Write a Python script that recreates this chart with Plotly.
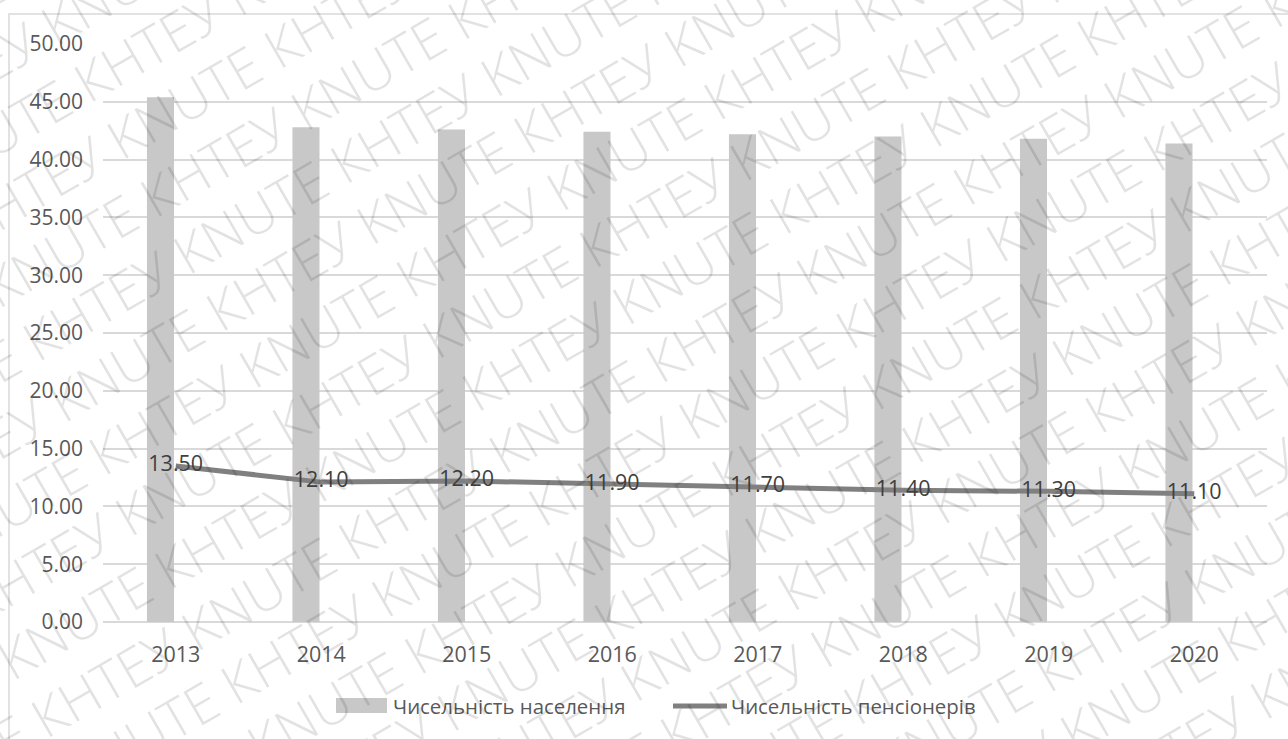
import math
import plotly.graph_objects as go

# ---- data ----
years = ["2013", "2014", "2015", "2016", "2017", "2018", "2019", "2020"]
population = [45.4, 42.8, 42.6, 42.4, 42.2, 42.0, 41.8, 41.4]
pensioners = [13.5, 12.1, 12.2, 11.9, 11.7, 11.4, 11.3, 11.1]
series_names = ["Чисельність населення", "Чисельність пенсіонерів"]
watermark_words = ["КНТЕУ", "KNUTE"]

W, H = 1288, 739
ML, MR, MT, MB = 103, 21, 44, 117
PW, PH = W - ML - MR, H - MT - MB

def px_x(p):
    return (p - ML) / PW

def px_y(p):
    return (H - MB - p) / PH

FONT = "Open Sans"
TICK_COLOR = "#595959"
BAR_COLOR = "#c8c8c8"
LINE_COLOR = "#808080"

fig = go.Figure()
fig.add_trace(go.Bar(
    x=years, y=population, name=series_names[0],
    marker=dict(color=BAR_COLOR, line=dict(width=0)),
    width=0.186, offset=-0.198, showlegend=False,
))
fig.add_trace(go.Scatter(
    x=years, y=pensioners, name=series_names[1], mode="lines+text",
    line=dict(color=LINE_COLOR, width=5, shape="linear"),
    text=[f"{v:.2f}" for v in pensioners], textposition="middle center",
    textfont=dict(family=FONT, size=21.5, color="#3f3f3f"),
    showlegend=False, cliponaxis=False,
))

shapes = []
annotations = []

# chart border
shapes.append(dict(type="rect", xref="paper", yref="paper",
                   x0=px_x(9), x1=px_x(1310), y0=px_y(14), y1=px_y(770),
                   line=dict(color="#d9d9d9", width=1.5), layer="below"))

# manual legend
shapes.append(dict(type="rect", xref="paper", yref="paper",
                   x0=px_x(336), x1=px_x(387), y0=px_y(698), y1=px_y(713),
                   fillcolor=BAR_COLOR, line=dict(width=0)))
shapes.append(dict(type="line", xref="paper", yref="paper",
                   x0=px_x(673), x1=px_x(727), y0=px_y(706), y1=px_y(706),
                   line=dict(color=LINE_COLOR, width=5)))
for name, xs in zip(series_names, [391, 729]):
    annotations.append(dict(text=name, xref="paper", yref="paper",
                            x=px_x(xs), y=px_y(706), xanchor="left", yanchor="middle",
                            showarrow=False,
                            font=dict(family=FONT, size=20.4, color=TICK_COLOR)))

# watermark
ang = math.radians(30)
vx, vy = math.sin(ang), math.cos(ang)
cx, cy = W / 2, H / 2
spacing = 66
for k in range(-13, 14):
    words = watermark_words if k % 2 == 0 else watermark_words[::-1]
    line_text = " ".join(words * 6)
    px = cx + k * spacing * vx
    py = cy + k * spacing * vy
    annotations.append(dict(text=line_text, xref="paper", yref="paper",
                            x=px_x(px), y=px_y(py), xanchor="center", yanchor="middle",
                            textangle=-30, showarrow=False,
                            font=dict(family=FONT, size=54, weight=300,
                                      color="rgba(0,0,0,0.115)")))

fig.update_layout(
    width=W, height=H,
    margin=dict(l=ML, r=MR, t=MT, b=MB, pad=0),
    paper_bgcolor="white", plot_bgcolor="white",
    font=dict(family=FONT, size=21, color=TICK_COLOR),
    showlegend=False,
    shapes=shapes, annotations=annotations,
    xaxis=dict(type="category", showgrid=False, showline=False, zeroline=False,
               ticks="", tickfont=dict(family=FONT, size=21.5, color=TICK_COLOR),
               ticklabelstandoff=17),
    yaxis=dict(range=[0, 50], dtick=5, tickformat=".2f", showgrid=True,
               gridcolor="#d9d9d9", gridwidth=1.5, zeroline=True,
               zerolinecolor="#d9d9d9", zerolinewidth=1.5, showline=False,
               ticks="", tickfont=dict(family=FONT, size=21, color=TICK_COLOR),
               ticklabelstandoff=19),
)

fig.write_html("out.html")
